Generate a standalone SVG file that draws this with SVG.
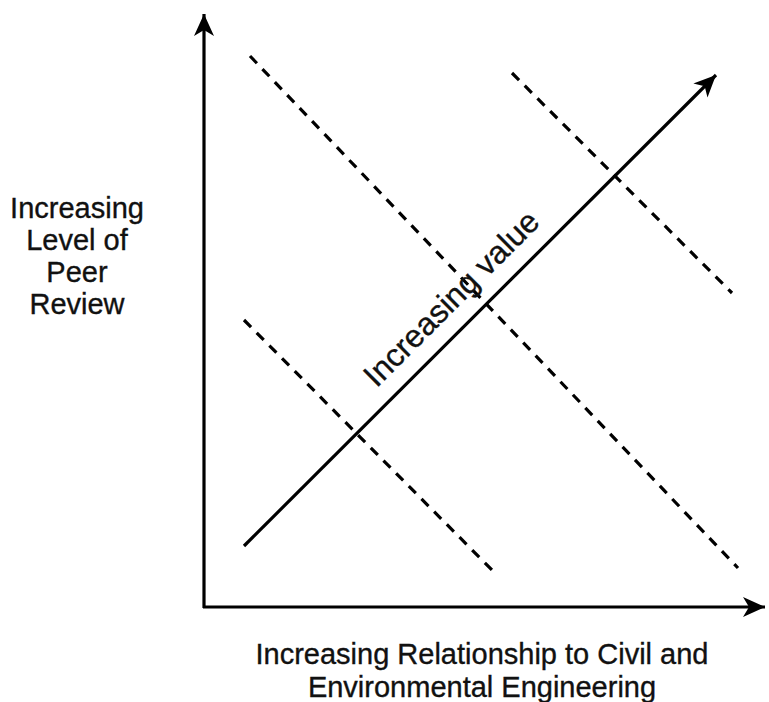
<svg xmlns="http://www.w3.org/2000/svg" width="769" height="702" viewBox="0 0 769 702">
<style>
.ax{stroke:#000;stroke-width:3.2;fill:none}
.dash{stroke:#000;stroke-width:3.2;fill:none;stroke-dasharray:10 8}
.lbl{font-family:"Liberation Sans",Arial,sans-serif;font-size:29px;fill:#111;stroke:#111;stroke-width:0.35;text-anchor:middle}
</style>
<defs>
<marker id="ah" markerUnits="userSpaceOnUse" viewBox="-24 -12 26 24" refX="0" refY="0" markerWidth="26" markerHeight="24" orient="auto">
<path d="M0,0 L-22,-10 L-16,0 L-22,10 Z" fill="#000"/>
</marker>
</defs>
<g id="connectors">
<line class="ax" x1="204" y1="608" x2="204" y2="14" marker-end="url(#ah)"/>
<line class="ax" x1="203" y1="607" x2="765" y2="607" marker-end="url(#ah)"/>
<line class="ax" x1="244" y1="546" x2="716" y2="75" marker-end="url(#ah)"/>
<line class="dash" x1="250" y1="56" x2="738" y2="568"/>
<line class="dash" x1="512" y1="73" x2="732" y2="293"/>
<line class="dash" x1="244" y1="320" x2="492" y2="570"/>
</g>
<g id="y-label">
<text class="lbl" x="77" y="218">Increasing</text>
<text class="lbl" x="77" y="250">Level of</text>
<text class="lbl" x="77" y="282">Peer</text>
<text class="lbl" x="77" y="314">Review</text>
</g>
<g id="x-label">
<text class="lbl" x="482" y="664">Increasing Relationship to Civil and</text>
<text class="lbl" x="482" y="697">Environmental Engineering</text>
</g>
<g id="value-label">
<text class="lbl" style="font-size:32px" transform="translate(459,306) rotate(-45)" x="0" y="0">Increasing value</text>
</g>
</svg>
